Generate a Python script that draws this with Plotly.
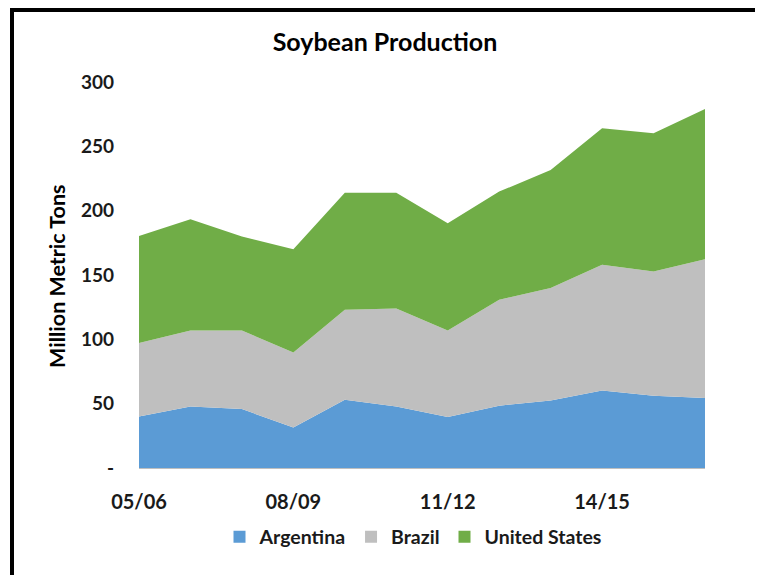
import plotly.graph_objects as go

seasons = ["05/06", "06/07", "07/08", "08/09", "09/10", "10/11",
           "11/12", "12/13", "13/14", "14/15", "15/16", "16/17"]
argentina = [40.1, 47.8, 45.8, 31.5, 53.0, 47.8, 39.6, 48.4, 52.5, 60.3, 56.1, 54.4]
brazil = [57.0, 59.1, 61.1, 58.3, 69.9, 76.1, 67.3, 82.3, 87.3, 97.6, 96.6, 107.9]
united_states = [83.3, 86.5, 73.0, 80.3, 91.1, 90.1, 83.4, 84.1, 91.9, 106.1, 107.5, 116.7]

x_tick_labels = ["05/06", "08/09", "11/12", "14/15"]
y_tick_vals = [0, 50, 100, 150, 200, 250, 300]
y_tick_text = ["-", "50", "100", "150", "200", "250", "300"]

FONT = "Lato"
OFF = 8  # page body margin
W, H = 763 - OFF, 575 - OFF
L, T = 139 - OFF, 82 - OFF
R = W - (705 - OFF)
B = H - (468 - OFF)
PW, PH = W - L - R, H - T - B


def px_x(sx):
    return (sx - OFF - L) / PW


def px_y(sy):
    return (H - B - (sy - OFF)) / PH


fig = go.Figure()
series = [("Argentina", argentina, "#5B9BD5"),
          ("Brazil", brazil, "#BFBFBF"),
          ("United States", united_states, "#70AD47")]
for name, vals, col in series:
    fig.add_trace(go.Scatter(
        x=seasons, y=vals, name=name, mode="none",
        stackgroup="one", fillcolor=col, line=dict(width=0),
        showlegend=False
    ))
for name, vals, col in series:
    fig.add_trace(go.Scatter(
        x=[None], y=[None], name=name, mode="markers",
        marker=dict(symbol="square", size=12, color=col), showlegend=True
    ))

fig.update_layout(
    width=W, height=H,
    margin=dict(l=L, r=R, t=T, b=B),
    paper_bgcolor="white", plot_bgcolor="white",
    font=dict(family=FONT, color="#1a1a1a", size=16),
    title=dict(text="Soybean Production", x=(385 - OFF) / W, xanchor="center",
               y=1 - (42 - OFF) / H, yanchor="middle",
               font=dict(family=FONT, size=25, color="black", weight="bold")),
    showlegend=True,
    legend=dict(orientation="h", x=px_x(413), xanchor="center",
                y=px_y(537), yanchor="middle",
                font=dict(family=FONT, size=19.5, color="#1a1a1a", weight="bold"),
                itemwidth=30, traceorder="normal"),
    xaxis=dict(
        type="category", range=[0, 11],
        tickvals=x_tick_labels, ticktext=x_tick_labels,
        showline=True, linecolor="#BFBFBF", linewidth=1,
        showgrid=False, ticks="", ticklabelstandoff=16,
        tickfont=dict(family=FONT, size=20, color="#1a1a1a", weight="bold"),
        fixedrange=True,
    ),
    yaxis=dict(
        range=[0, 300], tickvals=y_tick_vals, ticktext=y_tick_text,
        showline=False, showgrid=False, zeroline=False, ticks="",
        ticklabelstandoff=24,
        tickfont=dict(family=FONT, size=19, color="#1a1a1a", weight="bold"),
    ),
    annotations=[dict(
        text="Million Metric Tons", xref="paper", yref="paper",
        x=px_x(57), y=px_y(277), xanchor="center", yanchor="middle",
        textangle=-90, showarrow=False,
        font=dict(family=FONT, size=21.5, color="black", weight="bold"),
    )],
    shapes=[
        dict(type="line", xref="paper", yref="paper", x0=px_x(12), x1=px_x(12),
             y0=px_y(8), y1=px_y(600), line=dict(color="black", width=4)),
        dict(type="line", xref="paper", yref="paper", x0=px_x(758), x1=px_x(758),
             y0=px_y(8), y1=px_y(600), line=dict(color="black", width=4)),
        dict(type="line", xref="paper", yref="paper", x0=px_x(10), x1=px_x(760),
             y0=px_y(10), y1=px_y(10), line=dict(color="black", width=4)),
    ],
)

fig.write_html("out.html")
